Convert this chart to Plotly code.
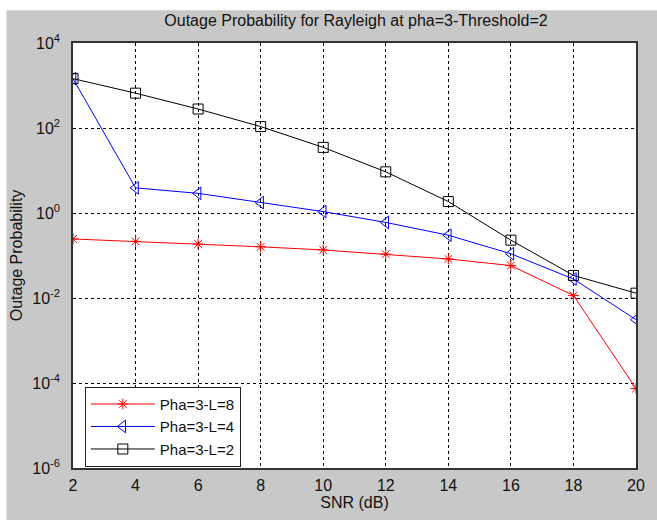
import plotly.graph_objects as go

snr = [2, 4, 6, 8, 10, 12, 14, 16, 18, 20]
l8 = [0.245, 0.215, 0.186, 0.16, 0.135, 0.108, 0.083, 0.058, 0.0115, 7.4e-5]
l4 = [1450, 3.9, 2.9, 1.76, 1.08, 0.60, 0.30, 0.11, 0.028, 0.0031]
l2 = [1450, 660, 280, 108, 35, 9.3, 1.86, 0.23, 0.034, 0.013]

ytick_vals = [1e-6, 1e-4, 1e-2, 1, 1e2, 1e4]
ytick_text = ["10<sup>-6</sup>", "10<sup>-4</sup>", "10<sup>-2</sup>",
              "10<sup>0</sup>", "10<sup>2</sup>", "10<sup>4</sup>"]
xtick_vals = [2, 4, 6, 8, 10, 12, 14, 16, 18, 20]

series = [
    ("Pha=3-L=8", l8, "red", "asterisk-open", 9),
    ("Pha=3-L=4", l4, "blue", "triangle-left-open", 11),
    ("Pha=3-L=2", l2, "black", "square-open", 10),
]

fig = go.Figure()
for name, vals, col, sym, sz in series:
    fig.add_trace(go.Scatter(
        x=snr, y=vals, name=name, mode="lines+markers",
        line=dict(color=col, width=1),
        marker=dict(symbol=sym, size=sz, color=col, line=dict(color=col, width=1)),
    ))

FAM = "Liberation Sans, Arial, sans-serif"
TXT = "#111"

fig.update_layout(
    width=657, height=520,
    margin=dict(l=73, r=17, t=43, b=50),
    paper_bgcolor="#c8c8c8",
    plot_bgcolor="white",
    font=dict(family=FAM, size=16, color=TXT),
    title=dict(text="Outage Probability for Rayleigh at pha=3-Threshold=2",
               x=356 / 657, xanchor="center", y=1 - 20 / 520, yanchor="middle",
               font=dict(size=16, family=FAM, color=TXT)),
    showlegend=True,
    legend=dict(x=0.021, y=0.003, xanchor="left", yanchor="bottom",
                bgcolor="white", bordercolor="#222", borderwidth=1,
                font=dict(size=15, family=FAM, color=TXT), itemwidth=64, tracegroupgap=0),
    shapes=[
        dict(type="rect", xref="paper", yref="paper", x0=-0.2, x1=1.1,
             y0=1 + 33 / 427, y1=1.3, fillcolor="white", line=dict(width=0), layer="below"),
        dict(type="rect", xref="paper", yref="paper", x0=-0.2, x1=(6 - 73) / 567,
             y0=-0.2, y1=1.3, fillcolor="white", line=dict(width=0), layer="below"),
    ],
)

fig.update_xaxes(
    range=[2, 20], tickvals=xtick_vals,
    tickfont=dict(size=16, family=FAM, color=TXT),
    showgrid=True, gridcolor="black", gridwidth=1, griddash="3px,3px",
    showline=True, linecolor="#333", linewidth=1.5, mirror=True,
    zeroline=False, ticks="", ticklabelstandoff=2,
    title=dict(text="SNR (dB)", standoff=3, font=dict(size=16, family=FAM, color=TXT)),
)
fig.update_yaxes(
    type="log", range=[-6, 4], tickvals=ytick_vals, ticktext=ytick_text,
    tickfont=dict(size=16, family=FAM, color=TXT),
    showgrid=True, gridcolor="black", gridwidth=1, griddash="3px,3px",
    showline=True, linecolor="#333", linewidth=1.5, mirror=True,
    zeroline=False, ticks="", ticklabelstandoff=8,
    title=dict(text="Outage Probability", standoff=6, font=dict(size=16, family=FAM, color=TXT)),
)

fig.write_html("out.html")
